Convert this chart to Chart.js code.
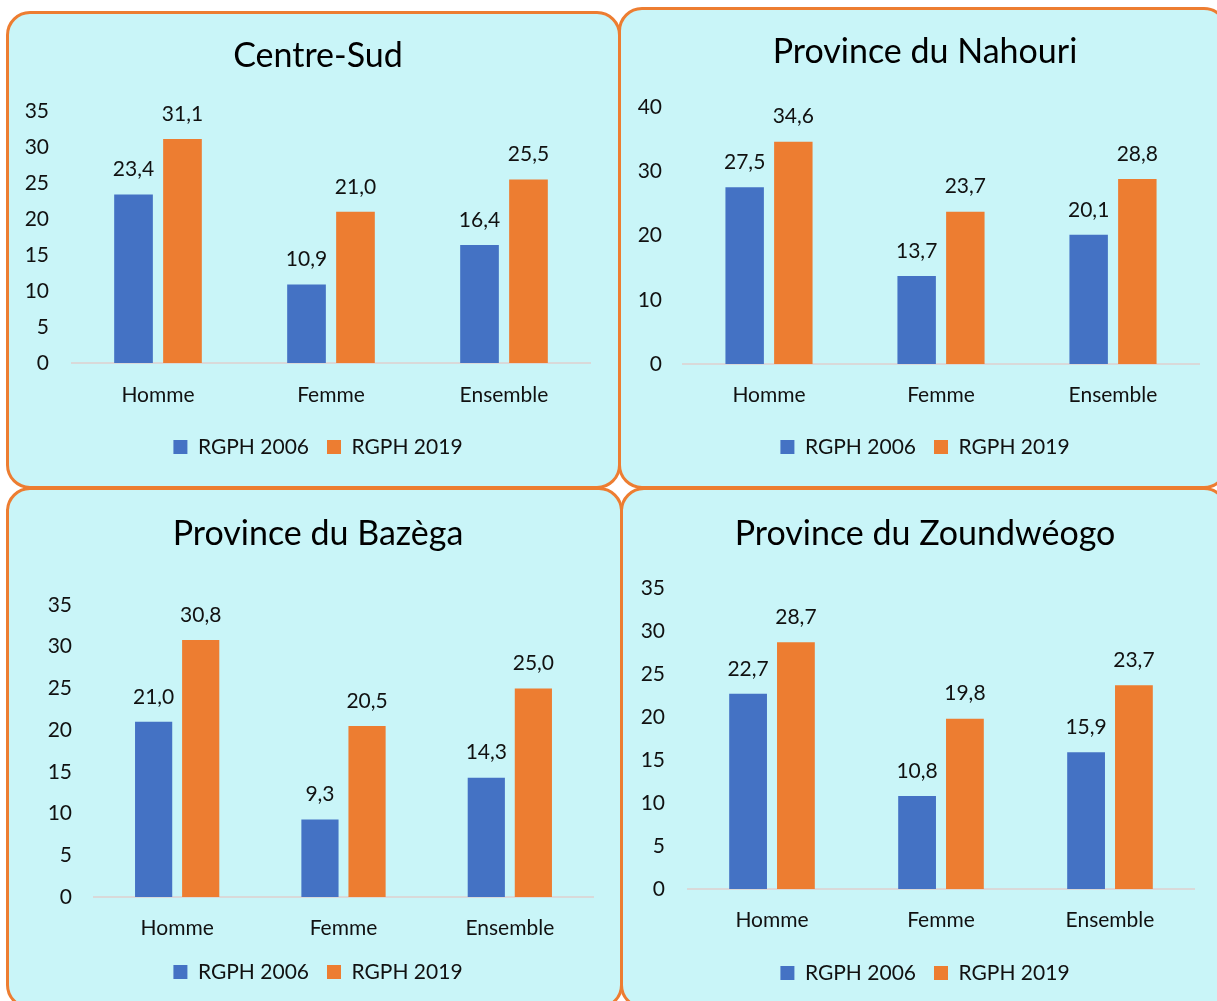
<!DOCTYPE html>
<html>
<head>
<meta charset="utf-8">
<script src="https://cdn.jsdelivr.net/npm/chart.js@4.4.1/dist/chart.umd.min.js"></script>
<style>
  body { margin: 0; background: #fff; width: 1217px; height: 1001px; overflow: hidden; position: relative; font-family: Lato, sans-serif; }
  .panel { position: absolute; box-sizing: border-box; border: 3px solid #ED7D31; border-radius: 24px; background: #C9F5F8; }
  .box { position: absolute; }
</style>
</head>
<body>
<div class="panel" style="left:6px;top:11px;width:615px;height:478px"></div>
<div class="panel" style="left:618px;top:7px;width:610px;height:482px"></div>
<div class="panel" style="left:6px;top:487px;width:617px;height:522px"></div>
<div class="panel" style="left:620px;top:487px;width:608px;height:522px"></div>

<div class="box" style="left:10px;top:14px;width:608px;height:472px"><canvas id="c1"></canvas></div>
<div class="box" style="left:622px;top:10px;width:605px;height:476px"><canvas id="c2"></canvas></div>
<div class="box" style="left:10px;top:490px;width:609px;height:511px"><canvas id="c3"></canvas></div>
<div class="box" style="left:624px;top:490px;width:605px;height:511px"><canvas id="c4"></canvas></div>

<script>
// data
var categories = ['Homme', 'Femme', 'Ensemble'];
var seriesNames = ['RGPH 2006', 'RGPH 2019'];
var titles = ['Centre-Sud', 'Province du Nahouri', 'Province du Bazèga', 'Province du Zoundwéogo'];

var centreSud2006 = [23.4, 10.9, 16.4];
var centreSud2019 = [31.1, 21.0, 25.5];
var nahouri2006 = [27.5, 13.7, 20.1];
var nahouri2019 = [34.6, 23.7, 28.8];
var bazega2006 = [21.0, 9.3, 14.3];
var bazega2019 = [30.8, 20.5, 25.0];
var zound2006 = [22.7, 10.8, 15.9];
var zound2019 = [28.7, 19.8, 23.7];

var yMaxes = [35, 40, 35, 35];
var ySteps = [5, 10, 5, 5];

var colours = ['#4472C4', '#ED7D31'];
var font = 'Lato';

// page positions for each panel (canvas box + where things should land)
var layouts = [
  {left: 10, top: 14, w: 608, h: 472, centerX: 318, titleY: 56, plotTop: 111, plotBottom: 363, xLabelY: 395, legendY: 447, plotLeft: 71.5, plotRight: 590.5, labelRight: 49},
  {left: 622, top: 10, w: 605, h: 476, centerX: 925, titleY: 52, plotTop: 107, plotBottom: 364, xLabelY: 395, legendY: 447, plotLeft: 683, plotRight: 1199, labelRight: 662},
  {left: 10, top: 490, w: 609, h: 511, centerX: 318, titleY: 534, plotTop: 605, plotBottom: 897, xLabelY: 928, legendY: 972, plotLeft: 94, plotRight: 593, labelRight: 72},
  {left: 624, top: 490, w: 605, h: 511, centerX: 925, titleY: 534, plotTop: 588, plotBottom: 889, xLabelY: 920, legendY: 973, plotLeft: 687.5, plotRight: 1194.5, labelRight: 665}
];

var valueLabels = {
  id: 'valueLabels',
  afterDatasetsDraw: function(chart) {
    var ctx = chart.ctx;
    ctx.save();
    ctx.font = '21px ' + font;
    ctx.fillStyle = '#111';
    ctx.textAlign = 'center';
    ctx.textBaseline = 'middle';
    chart.data.datasets.forEach(function(ds, i) {
      chart.getDatasetMeta(i).data.forEach(function(bar, j) {
        ctx.fillText(ds.data[j].toFixed(1).replace('.', ','), bar.x, bar.y - 25);
      });
    });
    ctx.restore();
  }
};

function makeChart(id, n, d2006, d2019) {
  var L = layouts[n];
  var legendPad = 18;
  var scaleLeft = L.labelRight - 30;
  // empty axis on the right so title and legend centre on centerX
  var spacer = 2 * L.centerX - scaleLeft - L.plotRight;
  return new Chart(document.getElementById(id), {
    type: 'bar',
    data: {
      labels: categories,
      datasets: [
        {label: seriesNames[0], data: d2006, backgroundColor: colours[0]},
        {label: seriesNames[1], data: d2019, backgroundColor: colours[1]}
      ]
    },
    plugins: [valueLabels],
    options: {
      responsive: true,
      maintainAspectRatio: false,
      animation: false,
      categoryPercentage: 0.566,
      barPercentage: 0.79,
      layout: {
        padding: {
          left: scaleLeft - L.left,
          top: 0,
          right: L.left + L.w - L.plotRight - spacer,
          bottom: L.top + L.h - (L.legendY + 20.5)
        }
      },
      plugins: {
        title: {
          display: true,
          text: titles[n],
          color: '#000',
          font: {family: font, size: 34, weight: 'normal'},
          padding: {top: L.titleY - 20.4 - L.top, bottom: L.plotTop - L.titleY - 20.4}
        },
        legend: {
          position: 'bottom',
          labels: {
            boxWidth: 14,
            boxHeight: 14,
            padding: legendPad,
            color: '#111',
            font: {family: font, size: 21}
          }
        },
        tooltip: {enabled: false}
      },
      scales: {
        x: {
          grid: {display: false, drawTicks: false},
          border: {display: true, color: '#D9D9D9', width: 2},
          ticks: {color: '#111', font: {family: font, size: 21}, padding: L.xLabelY - 12.6 - L.plotBottom},
          afterFit: function(s) { s.height = L.legendY + 20.5 - (21 + legendPad + 10) - L.plotBottom; }
        },
        y: {
          min: 0,
          max: yMaxes[n],
          grid: {display: false, drawTicks: false},
          border: {display: false},
          ticks: {stepSize: ySteps[n], color: '#111', font: {family: font, size: 21}, padding: L.plotLeft - L.labelRight},
          afterFit: function(s) { s.width = L.plotLeft - scaleLeft; }
        },
        spacer: {
          type: 'linear',
          position: 'right',
          min: 0,
          max: 1,
          grid: {display: false, drawTicks: false},
          border: {display: false},
          ticks: {display: false},
          afterFit: function(s) { s.width = spacer; }
        }
      }
    }
  });
}

makeChart('c1', 0, centreSud2006, centreSud2019);
makeChart('c2', 1, nahouri2006, nahouri2019);
makeChart('c3', 2, bazega2006, bazega2019);
makeChart('c4', 3, zound2006, zound2019);
</script>
</body>
</html>
